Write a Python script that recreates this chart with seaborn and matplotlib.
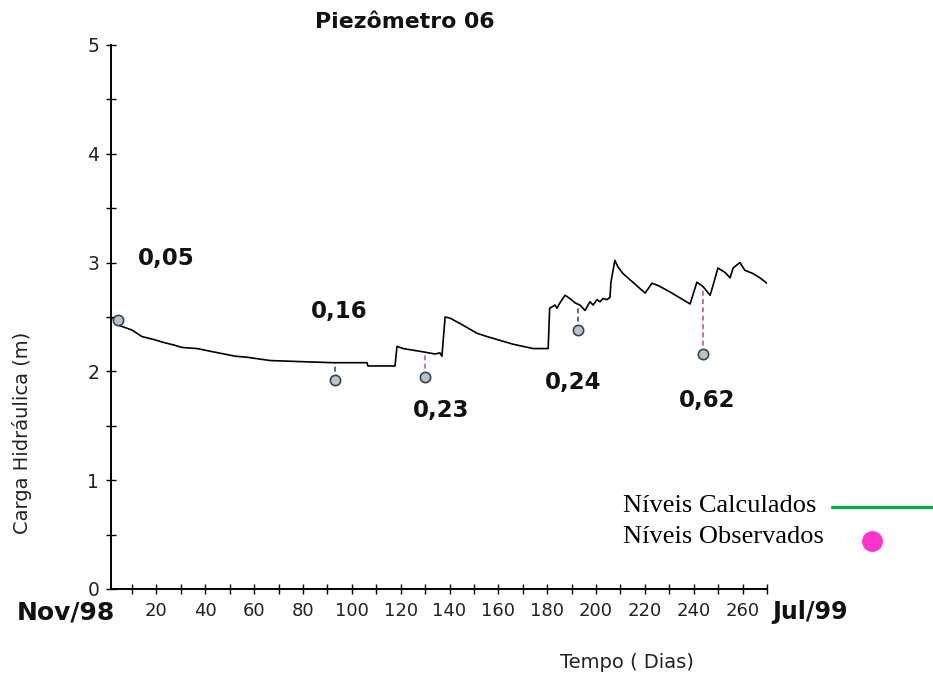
import numpy as np
import pandas as pd
import matplotlib
matplotlib.use("Agg")
import matplotlib.pyplot as plt
from matplotlib.lines import Line2D
import seaborn as sns

# Calculated piezometric head (m) along the simulation period (days)
calc_days = [2.2, 3.8, 10.0, 14.1, 19.4, 22.3, 27.6, 30.5, 36.6, 43.2, 52.2, 57.1,
             66.5, 78.8, 92.3, 106.2, 106.6, 117.7, 118.5, 121.0, 129.1, 134.1,
             136.1, 136.9, 138.2, 140.2, 144.3, 151.3, 155.4, 166.0, 174.2, 180.4,
             181.0, 183.2, 184.0, 185.2, 187.3, 189.3, 191.4, 193.4, 195.5, 197.5,
             198.8, 200.4, 201.6, 202.9, 204.5, 205.7, 206.1, 207.7, 209.0, 211.0,
             220.1, 222.9, 225.4, 230.3, 238.5, 241.3, 243.8, 246.7, 247.9, 249.9,
             252.8, 254.9, 256.1, 258.9, 260.9, 264.2, 267.1, 270.0]
calc_head = [2.49, 2.43, 2.38, 2.32, 2.29, 2.27, 2.24, 2.22, 2.21, 2.18, 2.14, 2.13,
             2.10, 2.09, 2.08, 2.08, 2.05, 2.05, 2.23, 2.21, 2.18, 2.16,
             2.17, 2.14, 2.50, 2.49, 2.44, 2.35, 2.32, 2.25, 2.21, 2.21,
             2.58, 2.61, 2.58, 2.63, 2.70, 2.67, 2.63, 2.61, 2.56, 2.64,
             2.61, 2.66, 2.64, 2.67, 2.66, 2.68, 2.82, 3.02, 2.96, 2.90,
             2.72, 2.81, 2.79, 2.73, 2.62, 2.82, 2.78, 2.70, 2.79, 2.95,
             2.91, 2.86, 2.95, 3.00, 2.93, 2.90, 2.86, 2.81]

# Observed readings: day and deviation observed - calculated (m)
obs_days = [4.3, 93.0, 130.0, 192.6, 243.7]
obs_dev = [0.05, -0.16, -0.23, -0.24, -0.62]

# Tick labels
y_labels = ["0", "1", "2", "3", "4", "5"]
x_label_days = list(range(20, 261, 20))

calc = pd.DataFrame({"dia": calc_days, "carga": calc_head})
calc_at_obs = np.interp(obs_days, calc_days, calc_head)
obs = pd.DataFrame({"dia": obs_days,
                    "carga": calc_at_obs + np.array(obs_dev),
                    "calc": calc_at_obs,
                    "dev": obs_dev})

sns.set_style("white")
plt.rcParams["font.family"] = ["DejaVu Sans"]

W, H = 933, 679
fig = plt.figure(figsize=(W / 100, H / 100), dpi=100)
ax = fig.add_axes([111 / W, (H - 589) / H, (767 - 111) / W, (589 - 45) / H])

# connectors between observed and calculated levels
conn_colors = ["#7a5060", "#4a5058", "#d0607e", "#46505e", "#c8587c"]
for (_, r), c in zip(obs.iterrows(), conn_colors):
    ax.plot([r["dia"], r["dia"]], [r["carga"], r["calc"]], color=c,
            lw=1.2, ls=(0, (3, 2)), zorder=2)

sns.lineplot(data=calc, x="dia", y="carga", ax=ax, color="black", lw=1.2,
             estimator=None, sort=False, zorder=3)
sns.scatterplot(data=obs, x="dia", y="carga", ax=ax, s=55, color="#b9c3cb",
                edgecolor="#3c4450", linewidth=1.2, zorder=4)

# deviation labels
label_pos = [(24, 3.04), (95, 2.55), (136.5, 1.64), (190.6, 1.90), (245.5, 1.73)]
for (x, y), d in zip(label_pos, obs_dev):
    ax.text(x, y, f"{abs(d):.2f}".replace(".", ","), ha="center", va="center",
            fontsize=16.5, fontweight="bold", color="#111111")

ax.set_xlim(1.4, 270)
ax.set_ylim(0, 5)
ax.set_xlabel("")
ax.set_ylabel("")

for s in ["top", "right"]:
    ax.spines[s].set_visible(False)
for s in ["left", "bottom"]:
    ax.spines[s].set_color("black")
    ax.spines[s].set_linewidth(1.4)

ax.set_yticks(np.arange(0, 5.01, 1.0))
ax.set_yticks(np.arange(0.5, 5.0, 1.0), minor=True)
ax.set_yticklabels(y_labels)
ax.set_xticks(x_label_days)
ax.set_xticklabels([str(d) for d in x_label_days])
ax.set_xticks(list(range(10, 271, 20)), minor=True)
ax.tick_params(axis="both", which="both", direction="inout", length=7,
               width=1.0, color="black", bottom=True, left=True)
ax.tick_params(axis="x", which="major", pad=6, labelsize=13, labelcolor="#222222")
ax.tick_params(axis="y", which="major", pad=5, labelsize=13.5, labelcolor="#222222")

fig.text(66 / W, 1 - 612 / H, "Nov/98", ha="center", va="center",
         fontsize=18, fontweight="bold", color="#111111")
fig.text(810 / W, 1 - 612 / H, "Jul/99", ha="center", va="center",
         fontsize=17, fontweight="bold", color="#111111")
fig.text(627 / W, 1 - 663 / H, "Tempo ( Dias)", ha="center", va="center",
         fontsize=14, color="#222222")
fig.text(22 / W, 1 - 433 / H, "Carga Hidráulica (m)", ha="center", va="center",
         rotation=90, fontsize=14, color="#222222")
fig.text(405 / W, 1 - 22 / H, "Piezômetro 06", ha="center", va="center",
         fontsize=15.8, fontweight="bold", color="#111111")

# legend drawn beside the plot area
fig.text(623 / W, 1 - 506 / H, "Níveis Calculados", ha="left", va="center",
         fontsize=19, family=["Liberation Serif", "DejaVu Serif"], color="black")
fig.text(623 / W, 1 - 537 / H, "Níveis Observados", ha="left", va="center",
         fontsize=19, family=["Liberation Serif", "DejaVu Serif"], color="black")
fig.add_artist(Line2D([832 / W, 933 / W], [1 - 507 / H, 1 - 507 / H],
                      color="#00b050", lw=2.4, transform=fig.transFigure))
fig.add_artist(Line2D([872 / W], [1 - 541 / H], marker="o", markersize=14,
                      color="#ff33cc", markeredgecolor="#ff33cc", ls="none",
                      transform=fig.transFigure))

fig.savefig("out.png", dpi=100, facecolor="white")
